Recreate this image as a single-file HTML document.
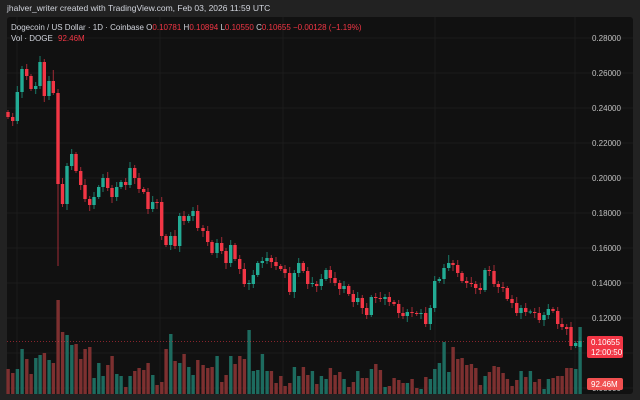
<!DOCTYPE html>
<html><head><meta charset="utf-8"><style>
html,body{margin:0;padding:0;background:#222;width:640px;height:400px;overflow:hidden;font-family:"Liberation Sans",sans-serif}
#hdr{position:absolute;left:7px;top:3px;font-size:8.5px;color:#d1d4dc}
#panel{position:absolute;left:7px;top:17px;width:626px;height:377px;background:#111;border-radius:3px}
svg{position:absolute;left:0;top:0}
.t{font-size:8px;fill:#c0c0c0}
</style></head><body>
<div id="hdr">jhalver_writer created with TradingView.com, Feb 03, 2026 11:59 UTC</div>
<div id="panel"></div>
<svg id="s" width="640" height="400"></svg>
<script>
const s=document.getElementById('s');let h='';
const G='#22ab94',R='#f23645';
for(let i=0;i<=11;i++){const y=38+i*35;if(y<394)h+=`<line x1="7" x2="633" y1="${y}" y2="${y}" stroke="#1c1c1c"/>`;}
[17,160,283,435,575].forEach(x=>h+=`<line x1="${x}" x2="${x}" y1="17" y2="394" stroke="#1c1c1c"/>`);
const c=[[8,112,117],[12.7,117,121],[17.3,121,92],[22,92,69],[26.7,69,76],[31,76,89],[35.7,89,86],[40,86,62],[44.3,62,96],[49,96,81],[53.3,81,93],[58,93,184],[62.5,184,204],[67,204,166],[71.7,166,154],[76,154,171],[80.7,171,185],[85,185,199],[89.7,199,205],[94,205,197],[98.7,197,187],[103,187,178],[107.7,178,188],[112,188,197],[116.7,197,187],[121,187,182],[125.7,182,185],[130,185,168],[134.7,168,178],[139,178,189],[143.7,189,192],[148,192,209],[152.7,209,202],[157,202,203],[161.7,202,236],[166,236,245],[170.7,245,236],[175,236,246],[179.7,246,216],[184,216,221],[188.7,221,216],[193,216,211],[197.7,211,228],[203,228,231],[207.7,231,242],[212,242,253],[217,253,243],[221.7,243,251],[226,251,263],[230.7,263,245],[235,245,259],[239.7,259,269],[244.3,269,284],[249,284,283],[253.3,284,275],[257.7,275,263],[262.3,263,261],[267,261,258],[271.3,258,262],[276,262,266],[280.7,266,269],[285,269,273],[289.7,273,292],[294.3,292,273],[298.7,273,263],[303.3,263,271],[307.7,271,284],[312.3,284,283],[316.7,284,286],[321.3,286,279],[326,279,270],[330.3,270,278],[335,278,283],[339.7,283,289],[344,289,286],[348.7,286,294],[353.3,294,302],[357.7,302,298],[362.3,298,308],[366.7,308,315],[371.3,315,297],[375.7,297,298],[380.3,298,299],[385,299,297],[389.3,297,302],[394,302,304],[398.7,304,313],[403,313,316],[407.3,316,312],[412,312,313],[416.7,313,314],[421,314,313],[425.7,313,324],[430.3,324,308],[434.7,308,281],[439.3,281,279],[444,279,268],[448.7,268,263],[453,263,265],[457.7,265,273],[462,273,281],[466.7,281,283],[471.3,283,284],[475.7,284,288],[480.3,288,290],[485,290,270],[489.3,270,271],[494,271,284],[498.3,284,287],[503,287,288],[507.3,288,299],[512,299,303],[516.7,303,313],[521,313,308],[525.7,308,312],[530.3,312,311.5],[534.7,312,313],[539.3,313,320],[544,320,315],[548.3,315,309],[553,309,311],[557.7,311,324],[562,324,327],[566.7,327,329],[571,327,346],[575.7,346,343],[580,347,341]];
const v=[369,373,369,349,359,374,358,355,353,360,363,300,332,335,345,344,359,349,347,378,363,376,365,356,374,376,387,376,371,368,370,363,375,385,382,349,334,361,363,354,367,375,360,365,368,367,356,382,375,356,364,356,359,330,371,370,354,371,371,383,376,386];
const v2=[383,367,376,367,375,371,384,376,379,368,375,372,379,387,382,371,378,369,364,370,387,386,378,380,383,383,379,388,389,377,379,369,363,342,372,347,359,358,365,364,368,385,376,372,366,367,373,379,386,380,371,377,371,382,379,389,379,378,376,377,368,369,327,367,340];
c.forEach((d,i)=>{const [x,o,cl]=d;const up=cl<o;const col=up?G:R;
 const top=Math.min(o,cl),bot=Math.max(o,cl);
 let hi=top-2-((i*7)%5),lo=bot+2+((i*3)%5);if(i==11)lo=266;if(i==10)hi=70;if(i==97)hi=top-8;
 let vy=x>=288?v2[Math.round((x-290)/4.65)]:v[i];if(!vy)vy=372;
 h+=`<rect x="${x-1.6}" y="${vy}" width="3.4" height="${394-vy}" fill="${up?'#1d6b5f':'#7d3030'}"/>`;
 h+=`<line x1="${x}" x2="${x}" y1="${hi}" y2="${lo}" stroke="${up?'#1a7a69':'#a02a35'}" stroke-width="1"/>`;
 h+=`<rect x="${x-1.7}" y="${top}" width="3.4" height="${Math.max(1,bot-top)}" fill="${col}"/>`;
});
h+=`<line x1="7" x2="585" y1="341.5" y2="341.5" stroke="#f23645" stroke-width="0.8" stroke-dasharray="1,2" opacity="0.7"/>`;
const labs=['0.28000','0.26000','0.24000','0.22000','0.20000','0.18000','0.16000','0.14000','0.12000'];
labs.forEach((l,i)=>h+=`<text class="t" x="592" y="${41+i*35}">${l}</text>`);
h+=`<text class="t" x="592" y="391">0.08000</text>`;
h+=`<rect x="587" y="336" width="36" height="22" rx="2" fill="#f23645"/><text x="591" y="345" font-size="8" fill="#fff">0.10655</text><text x="591" y="355" font-size="8" fill="#fff">12:00:50</text>`;
h+=`<rect x="587" y="378" width="36" height="12" rx="2" fill="#f05050"/><text x="591" y="387" font-size="8" fill="#fff">92.46M</text>`;
h+=`<text x="11" y="30" font-size="8" fill="#d1d4dc">Dogecoin / US Dollar · 1D · Coinbase <tspan>O</tspan><tspan fill="#f23645">0.10781</tspan> H<tspan fill="#f23645">0.10894</tspan> L<tspan fill="#f23645">0.10550</tspan> C<tspan fill="#f23645">0.10655 −0.00128 (−1.19%)</tspan></text>`;
h+=`<text x="11" y="41" font-size="8" fill="#d1d4dc">Vol · DOGE <tspan fill="#f23645" dx="3">92.46M</tspan></text>`;
s.innerHTML=h;
</script>
</body></html>
